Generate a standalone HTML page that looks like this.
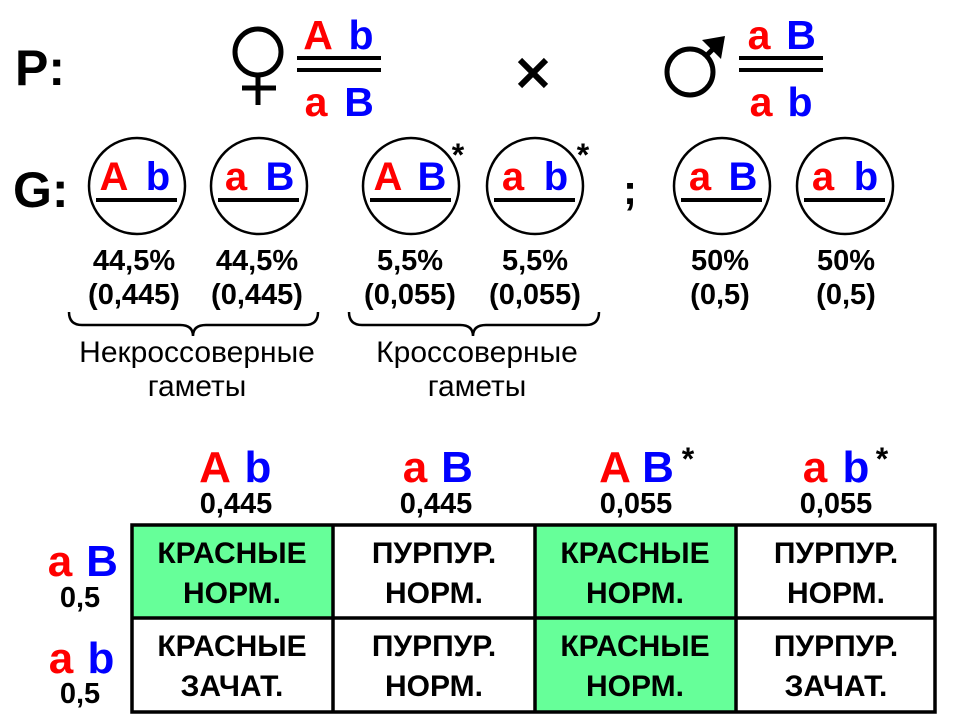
<!DOCTYPE html>
<html><head><meta charset="utf-8"><style>
body{margin:0;background:#fff}
svg{display:block}
text{font-family:"Liberation Sans",Arial,sans-serif;font-weight:bold}
.r{fill:#ff0000}.b{fill:#0000ff}
.n{font-weight:normal}
</style></head><body>
<svg width="960" height="720" viewBox="0 0 960 720" xmlns="http://www.w3.org/2000/svg" font-family="Liberation Sans, Arial, sans-serif" font-weight="bold">
<text x="15" y="85" font-size="50">P:</text>
<text x="13" y="207" font-size="50">G:</text>
<!-- female -->
<circle cx="258" cy="52" r="23" fill="none" stroke="#000" stroke-width="5"/>
<line x1="258" y1="75" x2="258" y2="105" stroke="#000" stroke-width="5"/>
<line x1="242" y1="88" x2="276" y2="88" stroke="#000" stroke-width="5"/>
<g font-size="41" text-anchor="middle">
<text x="318" y="49" class="r">A</text><text x="361" y="49" class="b">b</text>
<text x="316" y="116" class="r">a</text><text x="359" y="116" class="b">B</text>
<text x="759" y="49" class="r">a</text><text x="801" y="49" class="b">B</text>
<text x="761" y="116" class="r">a</text><text x="800" y="116" class="b">b</text>
</g>
<rect x="297" y="56" width="84" height="4"/><rect x="297" y="68" width="84" height="4"/>
<path d="M520,60 L546,86 M546,60 L520,86" stroke="#000" stroke-width="6"/>
<!-- male -->
<circle cx="690" cy="72" r="23" fill="none" stroke="#000" stroke-width="5"/>
<line x1="706" y1="56" x2="720" y2="42" stroke="#000" stroke-width="5"/>
<polygon points="725,36 702,40 721,59" fill="#000"/>
<rect x="739" y="56" width="84" height="4"/><rect x="739" y="68" width="84" height="4"/>
<!-- gametes -->
<g fill="none" stroke="#000" stroke-width="2.5">
<circle cx="137" cy="186" r="48"/><circle cx="259" cy="186" r="48"/>
<circle cx="411" cy="186" r="48"/><circle cx="535" cy="186" r="48"/>
<circle cx="722" cy="186" r="48"/><circle cx="845" cy="186" r="48"/>
</g>
<g font-size="40" text-anchor="middle">
<text x="114" y="190" class="r">A</text><text x="158" y="190" class="b">b</text>
<text x="236" y="190" class="r">a</text><text x="280" y="190" class="b">B</text>
<text x="388" y="190" class="r">A</text><text x="432" y="190" class="b">B</text>
<text x="513" y="190" class="r">a</text><text x="556" y="190" class="b">b</text>
<text x="700" y="190" class="r">a</text><text x="743" y="190" class="b">B</text>
<text x="823" y="190" class="r">a</text><text x="866" y="190" class="b">b</text>
</g>
<g>
<rect x="96" y="198" width="81" height="4"/><rect x="218" y="198" width="81" height="4"/>
<rect x="370" y="198" width="81" height="4"/><rect x="494" y="198" width="81" height="4"/>
<rect x="681" y="198" width="81" height="4"/><rect x="804" y="198" width="81" height="4"/>
</g>
<text x="458" y="166" font-size="32" text-anchor="middle">*</text>
<text x="583" y="166" font-size="32" text-anchor="middle">*</text>
<text x="630" y="204" font-size="42" text-anchor="middle">;</text>
<g font-size="29" text-anchor="middle">
<text x="134" y="270">44,5%</text><text x="134" y="304">(0,445)</text>
<text x="257" y="270">44,5%</text><text x="257" y="304">(0,445)</text>
<text x="410" y="270">5,5%</text><text x="410" y="304">(0,055)</text>
<text x="535" y="270">5,5%</text><text x="535" y="304">(0,055)</text>
<text x="720" y="270">50%</text><text x="720" y="304">(0,5)</text>
<text x="846" y="270">50%</text><text x="846" y="304">(0,5)</text>
</g>
<g fill="none" stroke="#000" stroke-width="2.5">
<path d="M69,312 Q69,325 82,325 L180,325 Q193,325 193,336 Q193,325 206,325 L305,325 Q318,325 318,312"/>
<path d="M349,312 Q349,325 362,325 L460,325 Q473,325 473,336 Q473,325 486,325 L586,325 Q599,325 599,312"/>
</g>
<g font-size="30" text-anchor="middle" font-weight="normal">
<text x="197" y="362" class="n">Некроссоверные</text>
<text x="197" y="396" class="n">гаметы</text>
<text x="477" y="362" class="n">Кроссоверные</text>
<text x="477" y="396" class="n">гаметы</text>
</g>
<!-- table headers -->
<g font-size="44" text-anchor="middle">
<text x="215" y="482" class="r">A</text><text x="258" y="482" class="b">b</text>
<text x="415" y="482" class="r">a</text><text x="457" y="482" class="b">B</text>
<text x="615" y="482" class="r">A</text><text x="658" y="482" class="b">B</text>
<text x="815" y="482" class="r">a</text><text x="856" y="482" class="b">b</text>
<text x="60" y="576" class="r">a</text><text x="102" y="576" class="b">B</text>
<text x="61" y="673" class="r">a</text><text x="101" y="673" class="b">b</text>
</g>
<text x="688" y="470" font-size="32" text-anchor="middle">*</text>
<text x="882" y="470" font-size="32" text-anchor="middle">*</text>
<g font-size="29" text-anchor="middle">
<text x="236" y="513">0,445</text><text x="436" y="513">0,445</text>
<text x="636" y="513">0,055</text><text x="836" y="513">0,055</text>
<text x="80" y="607">0,5</text><text x="80" y="703">0,5</text>
</g>
<!-- table -->
<rect x="133" y="526" width="200" height="91" fill="#66ff99"/>
<rect x="535" y="526" width="200" height="187" fill="#66ff99"/>
<g stroke="#000" stroke-width="3.5" fill="none">
<rect x="132" y="525" width="803" height="187"/>
<line x1="333" y1="525" x2="333" y2="712"/>
<line x1="535" y1="525" x2="535" y2="712"/>
<line x1="736" y1="525" x2="736" y2="712"/>
<line x1="132" y1="618" x2="935" y2="618"/>
</g>
<g font-size="30" text-anchor="middle">
<text x="232" y="563">КРАСНЫЕ</text><text x="232" y="603">НОРМ.</text>
<text x="434" y="563">ПУРПУР.</text><text x="434" y="603">НОРМ.</text>
<text x="635" y="563">КРАСНЫЕ</text><text x="635" y="603">НОРМ.</text>
<text x="836" y="563">ПУРПУР.</text><text x="836" y="603">НОРМ.</text>
<text x="232" y="656">КРАСНЫЕ</text><text x="232" y="696">ЗАЧАТ.</text>
<text x="434" y="656">ПУРПУР.</text><text x="434" y="696">НОРМ.</text>
<text x="635" y="656">КРАСНЫЕ</text><text x="635" y="696">НОРМ.</text>
<text x="836" y="656">ПУРПУР.</text><text x="836" y="696">ЗАЧАТ.</text>
</g>
</svg>
</body></html>
